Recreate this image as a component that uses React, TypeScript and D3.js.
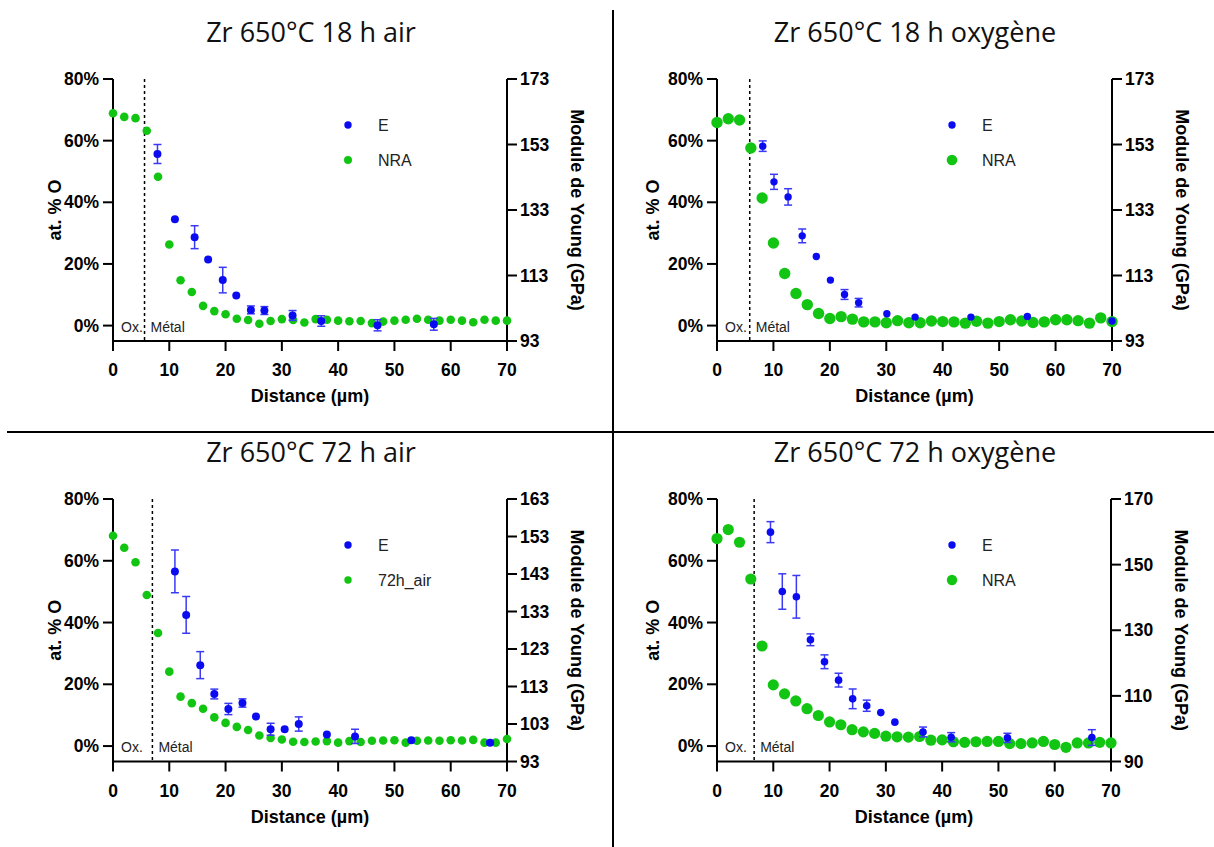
import React from "react";
import * as d3 from "d3";

// ---------- data ----------
const NRA_DIST = [0, 2, 4, 6, 8, 10, 12, 14, 16, 18, 20, 22, 24, 26, 28, 30, 32, 34, 36, 38, 40, 42, 44, 46, 48, 50, 52, 54, 56, 58, 60, 62, 64, 66, 68, 70];

const P1_NRA = [68.9, 67.7, 67.3, 63.2, 48.3, 26.3, 14.7, 10.9, 6.4, 4.7, 3.7, 2.2, 1.8, 0.6, 1.5, 2.1, 1.8, 1.0, 2.1, 1.9, 1.6, 1.4, 1.5, 0.8, 1.3, 1.6, 1.9, 2.2, 1.9, 1.6, 1.9, 1.6, 1.1, 1.9, 1.6, 1.6];
const P1_E_X = [7.9, 11.0, 14.5, 16.9, 19.5, 21.9, 24.5, 26.9, 31.9, 37.0, 47.0, 57.0];
const P1_E = [150.1, 130.2, 124.7, 117.9, 111.6, 106.9, 102.5, 102.3, 100.8, 99.1, 97.8, 98.1];
const P1_E_ERR = [2.9, 0, 3.5, 0, 3.9, 0, 1.2, 1.2, 1.5, 1.6, 1.7, 1.8];

const P2_NRA = [65.9, 67.1, 66.7, 57.6, 41.4, 26.8, 16.9, 10.4, 6.8, 3.9, 2.3, 2.9, 2.1, 1.2, 1.2, 0.9, 1.6, 0.9, 0.9, 1.5, 1.3, 1.2, 0.8, 1.4, 0.8, 1.3, 1.9, 1.5, 1.0, 1.2, 1.9, 1.9, 1.6, 0.8, 2.5, 1.3];
const P2_E_X = [8.1, 10.1, 12.6, 15.1, 17.6, 20.1, 22.6, 25.1, 30.1, 35.1, 45.0, 55.0, 70.0];
const P2_E = [152.5, 141.6, 137.0, 125.1, 118.8, 111.6, 107.2, 104.7, 101.3, 100.3, 100.3, 100.5, 99.1];
const P2_E_ERR = [1.6, 2.3, 2.5, 2.1, 0, 0, 1.5, 1.3, 0, 0, 0, 0, 0];

const P3_NRA = [68.1, 64.2, 59.5, 48.9, 36.6, 24.1, 16.0, 13.9, 12.1, 9.3, 7.5, 6.2, 5.2, 3.4, 2.6, 2.1, 1.4, 1.3, 1.5, 1.6, 1.1, 1.6, 1.3, 1.7, 1.8, 1.9, 1.1, 1.7, 1.8, 1.7, 1.9, 1.8, 2.0, 1.1, 1.1, 2.3];
const P3_E_X = [11.0, 13.0, 15.5, 18.0, 20.5, 23.0, 25.4, 28.0, 30.5, 33.0, 38.0, 43.0, 53.0, 67.0];
const P3_E = [143.7, 132.1, 118.7, 111.0, 107.0, 108.6, 105.0, 101.6, 101.6, 103.0, 100.2, 99.7, 98.7, 98.0];
const P3_E_ERR = [5.7, 4.9, 3.6, 1.3, 1.5, 1.1, 0, 1.6, 0, 1.9, 0, 1.9, 0, 0.4];

const P4_NRA = [67.2, 70.1, 66.0, 54.1, 32.4, 19.8, 16.9, 14.6, 12.1, 9.9, 7.8, 6.9, 5.3, 4.6, 4.1, 3.2, 3.0, 2.9, 3.1, 1.9, 2.0, 1.4, 1.2, 1.4, 1.5, 1.5, 0.8, 0.8, 1.0, 1.5, 0.5, -0.4, 1.0, 1.0, 1.2, 1.0];
const P4_E_X = [9.5, 11.6, 14.1, 16.6, 19.1, 21.6, 24.1, 26.6, 29.1, 31.6, 36.6, 41.6, 51.6, 66.6];
const P4_E = [159.9, 141.8, 140.2, 127.1, 120.4, 114.8, 109.1, 107.0, 104.9, 102.0, 99.0, 97.4, 97.2, 97.3];
const P4_E_ERR = [3.2, 5.4, 6.5, 1.8, 2.1, 2.1, 3.0, 1.7, 0, 0, 1.5, 1.4, 1.4, 2.4];

const X_TICKS = [0, 10, 20, 30, 40, 50, 60, 70];
const LEFT_TICKS = [0, 20, 40, 60, 80];
const RIGHT_TICKS_18 = [93, 113, 133, 153, 173];
const RIGHT_TICKS_72AIR = [93, 103, 113, 123, 133, 143, 153, 163];
const RIGHT_TICKS_72OX = [90, 110, 130, 150, 170];

const TITLES = ["Zr 650°C 18 h air", "Zr 650°C 18 h oxygène", "Zr 650°C 72 h air", "Zr 650°C 72 h oxygène"];
const LEGEND_E = "E";
const LEGEND_NRA = ["NRA", "NRA", "72h_air", "NRA"];
const OXIDE_BOUNDARY = [5.6, 5.8, 7.0, 6.6];

// ---------- styles ----------
const BLUE = "#0B0BF2";
const BLUE_ERR = "#3A3AF5";
const GREEN = "#12C512";
const AXIS_FONT = "'Liberation Sans', Arial, sans-serif";
const TITLE_FONT = "'Open Sans', 'Noto Sans', sans-serif";

type Cfg = {
  left: number; right: number; top: number; bottom: number;
  rDomain: [number, number]; rTicks: number[];
  title: string; nraLabel: string; dash: number;
  greenR: number; blueR: number; legGreenR: number; leftTitleDx: number;
  titleX: number; titleY: number;
};

function Panel({ cfg, nra, ex, ey, eerr }: { cfg: Cfg; nra: number[]; ex: number[]; ey: number[]; eerr: number[] }) {
  const x = d3.scaleLinear().domain([0, 70]).range([cfg.left, cfg.right]);
  const yL = d3.scaleLinear().domain([-5, 80]).range([cfg.bottom, cfg.top]);
  const yR = d3.scaleLinear().domain(cfg.rDomain).range([cfg.bottom, cfg.top]);
  const midY = (cfg.top + cfg.bottom) / 2;
  const midX = (cfg.left + cfg.right) / 2;
  const sw = 2;
  return (
    <g>
      <text x={cfg.titleX} y={cfg.titleY} textAnchor="middle" fontFamily={TITLE_FONT} fontSize={27} fill="#111">
        {cfg.title}
      </text>
      {/* dashed boundary */}
      <line x1={x(cfg.dash)} x2={x(cfg.dash)} y1={cfg.top} y2={cfg.bottom} stroke="#000" strokeWidth={1.5} strokeDasharray="3,3" />
      <text x={cfg.left + 8} y={yL(0) + 6} fontFamily={AXIS_FONT} fontSize={14} fill="#222">Ox.</text>
      <text x={x(cfg.dash) + 6} y={yL(0) + 6} fontFamily={AXIS_FONT} fontSize={14} fill="#222">Métal</text>

      {/* axes */}
      <line x1={cfg.left} x2={cfg.left} y1={cfg.top} y2={cfg.bottom} stroke="#000" strokeWidth={sw} />
      <line x1={cfg.right} x2={cfg.right} y1={cfg.top} y2={cfg.bottom} stroke="#000" strokeWidth={sw} />
      <line x1={cfg.left - 1} x2={cfg.right + 1} y1={cfg.bottom} y2={cfg.bottom} stroke="#000" strokeWidth={sw} />
      {LEFT_TICKS.map((t) => (
        <g key={"l" + t}>
          <line x1={cfg.left - 10} x2={cfg.left} y1={yL(t)} y2={yL(t)} stroke="#000" strokeWidth={sw} />
          <text x={cfg.left - 14} y={yL(t)} dy="0.35em" textAnchor="end" fontFamily={AXIS_FONT} fontWeight="bold" fontSize={17.5} fill="#000">{t}%</text>
        </g>
      ))}
      {cfg.rTicks.map((t) => (
        <g key={"r" + t}>
          <line x1={cfg.right} x2={cfg.right + 10} y1={yR(t)} y2={yR(t)} stroke="#000" strokeWidth={sw} />
          <text x={cfg.right + 13} y={yR(t)} dy="0.35em" textAnchor="start" fontFamily={AXIS_FONT} fontWeight="bold" fontSize={17.5} fill="#000">{t}</text>
        </g>
      ))}
      {X_TICKS.map((t) => (
        <g key={"x" + t}>
          <line x1={x(t)} x2={x(t)} y1={cfg.bottom} y2={cfg.bottom + 10} stroke="#000" strokeWidth={sw} />
          <text x={x(t)} y={cfg.bottom + 29} dy="0.35em" textAnchor="middle" fontFamily={AXIS_FONT} fontWeight="bold" fontSize={17.5} fill="#000">{t}</text>
        </g>
      ))}
      <text x={midX} y={cfg.bottom + 55} dy="0.35em" textAnchor="middle" fontFamily={AXIS_FONT} fontWeight="bold" fontSize={18} fill="#000">Distance (µm)</text>
      <text transform={`translate(${cfg.left + cfg.leftTitleDx},${midY}) rotate(-90)`} dy="0.35em" textAnchor="middle" fontFamily={AXIS_FONT} fontWeight="bold" fontSize={18} fill="#000">at. % O</text>
      <text transform={`translate(${cfg.right + 70},${midY}) rotate(90)`} dy="0.35em" textAnchor="middle" fontFamily={AXIS_FONT} fontWeight="bold" fontSize={18} fill="#000">Module de Young (GPa)</text>

      {/* NRA points */}
      {nra.map((v, i) => (
        <circle key={"n" + i} cx={x(NRA_DIST[i])} cy={yL(v)} r={cfg.greenR} fill={GREEN} />
      ))}
      {/* E points with error bars */}
      {ex.map((xv, i) => {
        const e = eerr[i];
        const cx = x(xv);
        return (
          <g key={"e" + i}>
            {e > 0 && (
              <g stroke={BLUE_ERR} strokeWidth={1.5}>
                <line x1={cx} x2={cx} y1={yR(ey[i] + e)} y2={yR(ey[i] - e)} />
                <line x1={cx - 4} x2={cx + 4} y1={yR(ey[i] + e)} y2={yR(ey[i] + e)} />
                <line x1={cx - 4} x2={cx + 4} y1={yR(ey[i] - e)} y2={yR(ey[i] - e)} />
              </g>
            )}
            <circle cx={cx} cy={yR(ey[i])} r={cfg.blueR} fill={BLUE} />
          </g>
        );
      })}

      {/* legend */}
      <circle cx={cfg.left + 235} cy={cfg.top + 46} r={3.7} fill={BLUE} />
      <text x={cfg.left + 265} y={cfg.top + 46} dy="0.35em" fontFamily={AXIS_FONT} fontSize={16} fill="#222">{LEGEND_E}</text>
      <circle cx={cfg.left + 235} cy={cfg.top + 81} r={cfg.legGreenR} fill={GREEN} />
      <text x={cfg.left + 265} y={cfg.top + 81} dy="0.35em" fontFamily={AXIS_FONT} fontSize={16} fill="#222">{cfg.nraLabel}</text>
    </g>
  );
}

export default function App() {
  const cfgs: Cfg[] = [
    { left: 113, right: 507, top: 79, bottom: 341, rDomain: [93, 173], rTicks: RIGHT_TICKS_18, title: TITLES[0], nraLabel: LEGEND_NRA[0], dash: OXIDE_BOUNDARY[0], greenR: 4.3, blueR: 4, legGreenR: 4, leftTitleDx: -58, titleX: 311, titleY: 42 },
    { left: 717, right: 1112, top: 79, bottom: 341, rDomain: [93, 173], rTicks: RIGHT_TICKS_18, title: TITLES[1], nraLabel: LEGEND_NRA[1], dash: OXIDE_BOUNDARY[1], greenR: 5.7, blueR: 3.7, legGreenR: 5.3, leftTitleDx: -64, titleX: 915, titleY: 42 },
    { left: 113, right: 507, top: 499, bottom: 761.5, rDomain: [93, 163], rTicks: RIGHT_TICKS_72AIR, title: TITLES[2], nraLabel: LEGEND_NRA[2], dash: OXIDE_BOUNDARY[2], greenR: 4.3, blueR: 4, legGreenR: 3.7, leftTitleDx: -58, titleX: 311, titleY: 462 },
    { left: 717, right: 1111, top: 499, bottom: 761.5, rDomain: [90, 170], rTicks: RIGHT_TICKS_72OX, title: TITLES[3], nraLabel: LEGEND_NRA[3], dash: OXIDE_BOUNDARY[3], greenR: 5.6, blueR: 3.8, legGreenR: 5.2, leftTitleDx: -64, titleX: 915, titleY: 462 },
  ];
  const nras = [P1_NRA, P2_NRA, P3_NRA, P4_NRA];
  const exs = [P1_E_X, P2_E_X, P3_E_X, P4_E_X];
  const eys = [P1_E, P2_E, P3_E, P4_E];
  const errs = [P1_E_ERR, P2_E_ERR, P3_E_ERR, P4_E_ERR];
  return (
    <svg width={1214} height={847} style={{ position: "absolute", left: 0, top: 0, background: "#fff" }}>
      <rect x={0} y={0} width={1214} height={847} fill="#fff" />
      <line x1={613} x2={613} y1={10} y2={847} stroke="#000" strokeWidth={2} />
      <line x1={7} x2={1214} y1={432} y2={432} stroke="#000" strokeWidth={2} />
      {cfgs.map((c, i) => (
        <Panel key={i} cfg={c} nra={nras[i]} ex={exs[i]} ey={eys[i]} eerr={errs[i]} />
      ))}
    </svg>
  );
}
